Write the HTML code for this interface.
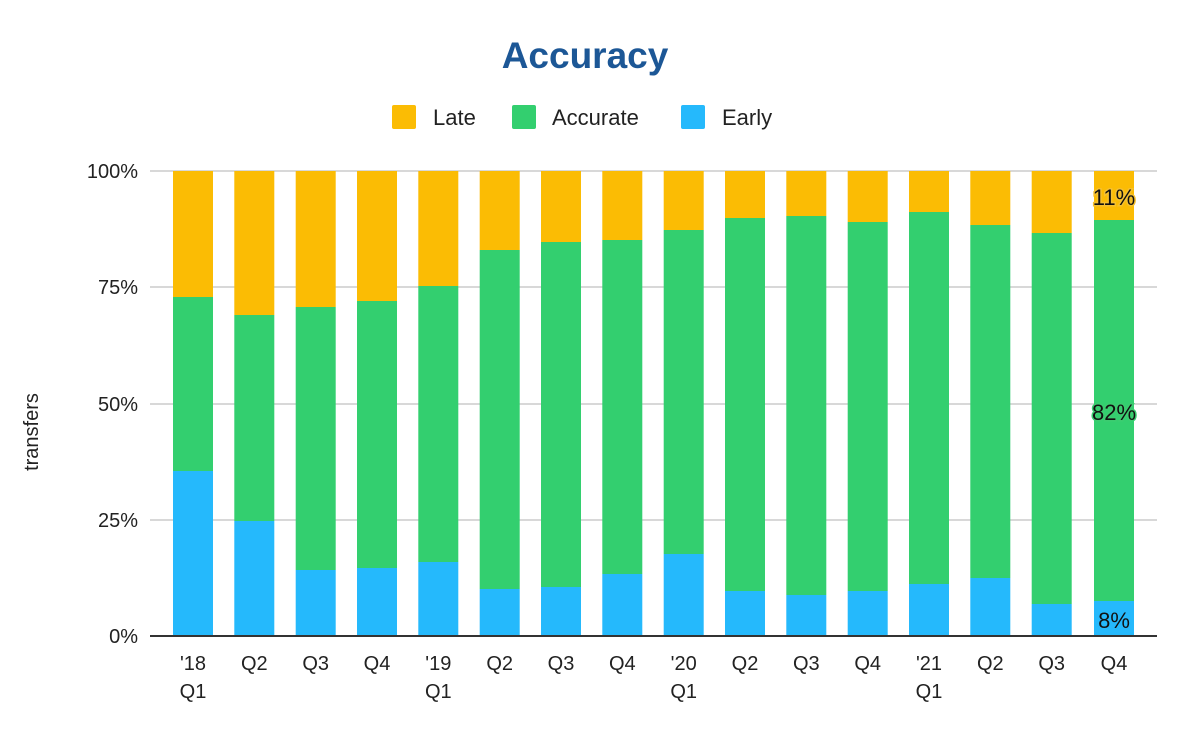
<!DOCTYPE html>
<html><head><meta charset="utf-8"><style>body{margin:0;background:#fff}svg{display:block}</style></head>
<body>
<svg width="1200" height="737" xmlns="http://www.w3.org/2000/svg" font-family="Liberation Sans, Arial, sans-serif">
<rect width="1200" height="737" fill="#fff"/>
<text x="585" y="68" text-anchor="middle" font-size="37" font-weight="bold" fill="#1c5796">Accuracy</text>
<rect x="392" y="105" width="24" height="24" rx="2" fill="#fbbc04"/>
<text x="433" y="125" font-size="22" fill="#222">Late</text>
<rect x="512" y="105" width="24" height="24" rx="2" fill="#33cf6f"/>
<text x="552" y="125" font-size="22" fill="#222">Accurate</text>
<rect x="681" y="105" width="24" height="24" rx="2" fill="#25b9fc"/>
<text x="722" y="125" font-size="22" fill="#222">Early</text>
<g stroke="#ccc" stroke-width="1.5">
<line x1="150" x2="1157" y1="171" y2="171"/>
<line x1="150" x2="1157" y1="287" y2="287"/>
<line x1="150" x2="1157" y1="404" y2="404"/>
<line x1="150" x2="1157" y1="520" y2="520"/>
</g>
<g font-size="20" fill="#222" text-anchor="end">
<text x="138" y="178">100%</text>
<text x="138" y="294">75%</text>
<text x="138" y="411">50%</text>
<text x="138" y="527">25%</text>
<text x="138" y="643">0%</text>
</g>
<text transform="translate(38,432) rotate(-90)" text-anchor="middle" font-size="20" fill="#222">transfers</text>
<g id="bars">
<rect x="173" y="171" width="40" height="126" fill="#fbbc04"/><rect x="173" y="297" width="40" height="174" fill="#33cf6f"/><rect x="173" y="471" width="40" height="165" fill="#25b9fc"/>
<rect x="234.3" y="171" width="40" height="144" fill="#fbbc04"/><rect x="234.3" y="315" width="40" height="206" fill="#33cf6f"/><rect x="234.3" y="521" width="40" height="115" fill="#25b9fc"/>
<rect x="295.7" y="171" width="40" height="136" fill="#fbbc04"/><rect x="295.7" y="307" width="40" height="263" fill="#33cf6f"/><rect x="295.7" y="570" width="40" height="66" fill="#25b9fc"/>
<rect x="357" y="171" width="40" height="130" fill="#fbbc04"/><rect x="357" y="301" width="40" height="267" fill="#33cf6f"/><rect x="357" y="568" width="40" height="68" fill="#25b9fc"/>
<rect x="418.3" y="171" width="40" height="115" fill="#fbbc04"/><rect x="418.3" y="286" width="40" height="276" fill="#33cf6f"/><rect x="418.3" y="562" width="40" height="74" fill="#25b9fc"/>
<rect x="479.7" y="171" width="40" height="79" fill="#fbbc04"/><rect x="479.7" y="250" width="40" height="339" fill="#33cf6f"/><rect x="479.7" y="589" width="40" height="47" fill="#25b9fc"/>
<rect x="541" y="171" width="40" height="71" fill="#fbbc04"/><rect x="541" y="242" width="40" height="345" fill="#33cf6f"/><rect x="541" y="587" width="40" height="49" fill="#25b9fc"/>
<rect x="602.3" y="171" width="40" height="69" fill="#fbbc04"/><rect x="602.3" y="240" width="40" height="334" fill="#33cf6f"/><rect x="602.3" y="574" width="40" height="62" fill="#25b9fc"/>
<rect x="663.7" y="171" width="40" height="59" fill="#fbbc04"/><rect x="663.7" y="230" width="40" height="324" fill="#33cf6f"/><rect x="663.7" y="554" width="40" height="82" fill="#25b9fc"/>
<rect x="725" y="171" width="40" height="47" fill="#fbbc04"/><rect x="725" y="218" width="40" height="373" fill="#33cf6f"/><rect x="725" y="591" width="40" height="45" fill="#25b9fc"/>
<rect x="786.3" y="171" width="40" height="45" fill="#fbbc04"/><rect x="786.3" y="216" width="40" height="379" fill="#33cf6f"/><rect x="786.3" y="595" width="40" height="41" fill="#25b9fc"/>
<rect x="847.7" y="171" width="40" height="51" fill="#fbbc04"/><rect x="847.7" y="222" width="40" height="369" fill="#33cf6f"/><rect x="847.7" y="591" width="40" height="45" fill="#25b9fc"/>
<rect x="909" y="171" width="40" height="41" fill="#fbbc04"/><rect x="909" y="212" width="40" height="372" fill="#33cf6f"/><rect x="909" y="584" width="40" height="52" fill="#25b9fc"/>
<rect x="970.3" y="171" width="40" height="54" fill="#fbbc04"/><rect x="970.3" y="225" width="40" height="353" fill="#33cf6f"/><rect x="970.3" y="578" width="40" height="58" fill="#25b9fc"/>
<rect x="1031.7" y="171" width="40" height="62" fill="#fbbc04"/><rect x="1031.7" y="233" width="40" height="371" fill="#33cf6f"/><rect x="1031.7" y="604" width="40" height="32" fill="#25b9fc"/>
<rect x="1094" y="171" width="40" height="49" fill="#fbbc04"/><rect x="1094" y="220" width="40" height="381" fill="#33cf6f"/><rect x="1094" y="601" width="40" height="35" fill="#25b9fc"/>
</g>
<line x1="150" x2="1157" y1="636" y2="636" stroke="#333" stroke-width="2"/>
<g font-size="22" fill="#111" text-anchor="middle" stroke-width="3" paint-order="stroke">
<text x="1114" y="205" stroke="#f5c030">11%</text>
<text x="1114" y="420" stroke="#3ccc70">82%</text>
<text x="1114" y="628" stroke="#25b9fc">8%</text>
</g>
<g font-size="20" fill="#222" text-anchor="middle">
<text x="193" y="670">'18</text><text x="193" y="698">Q1</text>
<text x="254.3" y="670">Q2</text>
<text x="315.7" y="670">Q3</text>
<text x="377" y="670">Q4</text>
<text x="438.3" y="670">'19</text><text x="438.3" y="698">Q1</text>
<text x="499.7" y="670">Q2</text>
<text x="561" y="670">Q3</text>
<text x="622.3" y="670">Q4</text>
<text x="683.7" y="670">'20</text><text x="683.7" y="698">Q1</text>
<text x="745" y="670">Q2</text>
<text x="806.3" y="670">Q3</text>
<text x="867.7" y="670">Q4</text>
<text x="929" y="670">'21</text><text x="929" y="698">Q1</text>
<text x="990.3" y="670">Q2</text>
<text x="1051.7" y="670">Q3</text>
<text x="1114" y="670">Q4</text>
</g>
</svg>
</body></html>
